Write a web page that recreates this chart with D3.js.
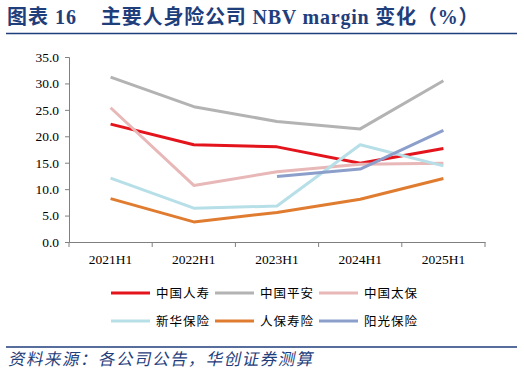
<!DOCTYPE html>
<html>
<head>
<meta charset="utf-8">
<script src="https://cdn.jsdelivr.net/npm/d3@7"></script>
<style>
  body { margin: 0; background: #fff; }
  svg { display: block; }
</style>
</head>
<body>
<div id="chart"></div>
<script>
const categories = ['2021H1', '2022H1', '2023H1', '2024H1', '2025H1'];
const yTicks = [0, 5, 10, 15, 20, 25, 30, 35];

const names = ['中国人寿', '中国平安', '中国太保', '新华保险', '人保寿险', '阳光保险'];
const colors = ['#e3141c', '#b3b3b3', '#e8b7b7', '#b7dfe8', '#e07c30', '#8c9fcb'];

const chinaLife = [22.3, 18.4, 18.0, 14.9, 17.7];
const pingAn = [31.2, 25.6, 22.8, 21.4, 30.5];
const cpic = [25.4, 10.7, 13.3, 14.7, 14.9];
const newChina = [12.1, 6.4, 6.8, 18.4, 14.4];
const picc = [8.2, 3.8, 5.6, 8.1, 12.0];
const sunshine = [null, null, 12.4, 13.8, 21.1];

const seriesValues = [chinaLife, pingAn, cpic, newChina, picc, sunshine];

const W = 524, H = 378;
const navy = '#1f3e7c';

const svg = d3.select('#chart').append('svg')
    .attr('width', W).attr('height', H);

// title
var titleFont = '"Liberation Serif", "Noto Sans CJK SC", serif';
svg.append('text')
    .attr('x', 7).attr('y', 24)
    .attr('fill', navy)
    .attr('font-family', titleFont)
    .attr('font-weight', 'bold')
    .attr('font-size', 20)
    .attr('letter-spacing', 1)
    .text('图表 16');
svg.append('text')
    .attr('x', 101).attr('y', 24)
    .attr('fill', navy)
    .attr('font-family', titleFont)
    .attr('font-weight', 'bold')
    .attr('font-size', 20)
    .attr('letter-spacing', 0.8)
    .text('主要人身险公司 NBV margin 变化（%）');

svg.append('line')
    .attr('x1', 6).attr('x2', 517).attr('y1', 33.5).attr('y2', 33.5)
    .attr('stroke', navy).attr('stroke-width', 1.5);

// plot
var mLeft = 69, mRight = 485, mTop = 57, mBottom = 242;

var x = d3.scaleBand().domain(categories).range([mLeft, mRight]);
var y = d3.scaleLinear().domain([0, 35]).range([mBottom, mTop]);

var g = svg.append('g');

g.append('g')
    .attr('transform', 'translate(' + mLeft + ',0)')
    .call(d3.axisLeft(y).tickValues(yTicks).tickSize(4).tickFormat(d3.format('.1f')))
    .call(a => a.select('.domain').attr('stroke', '#808080'))
    .call(a => a.selectAll('.tick line').attr('stroke', '#808080'))
    .call(a => a.selectAll('text')
        .attr('font-family', '"Liberation Serif", serif')
        .attr('font-size', 13.5).attr('fill', '#000').attr('dx', -3));

var xAxis = g.append('g')
    .attr('transform', 'translate(0,' + mBottom + ')')
    .call(d3.axisBottom(x).tickSize(0).tickPadding(12))
    .call(a => a.select('.domain').attr('stroke', '#808080'))
    .call(a => a.selectAll('text')
        .attr('font-family', '"Liberation Serif", serif')
        .attr('font-size', 13.5).attr('fill', '#000'));

// band boundary ticks
var bounds = categories.map(c => x(c)).concat([mRight]);
xAxis.selectAll('.btick').data(bounds).enter().append('line')
    .attr('x1', d => d).attr('x2', d => d)
    .attr('y1', 0).attr('y2', 5)
    .attr('stroke', '#808080');

var line = d3.line()
    .defined(d => d != null)
    .x((d, i) => x(categories[i]) + x.bandwidth() / 2)
    .y(d => y(d));

seriesValues.forEach(function (vals, i) {
    g.append('path')
        .datum(vals)
        .attr('fill', 'none')
        .attr('stroke', colors[i])
        .attr('stroke-width', 3)
        .attr('stroke-linejoin', 'round')
        .attr('d', line);
});

// legend
var legX = [111, 215, 319], legY = [293, 321];
names.forEach(function (n, i) {
    var lx = legX[i % 3], ly = legY[Math.floor(i / 3)];
    svg.append('line')
        .attr('x1', lx).attr('x2', lx + 39)
        .attr('y1', ly).attr('y2', ly)
        .attr('stroke', colors[i]).attr('stroke-width', 3);
    svg.append('text')
        .attr('x', lx + 45).attr('y', ly + 4.5)
        .attr('font-family', '"Noto Sans CJK SC", sans-serif')
        .attr('font-size', 12.5)
        .attr('fill', '#000')
        .attr('letter-spacing', 1)
        .text(n);
});

svg.append('line')
    .attr('x1', 6).attr('x2', 517).attr('y1', 347).attr('y2', 347)
    .attr('stroke', navy).attr('stroke-width', 1.5);

svg.append('text')
    .attr('x', 8).attr('y', 365)
    .attr('fill', navy)
    .attr('font-family', '"Noto Sans CJK SC", sans-serif')
    .attr('font-size', 16.5)
    .attr('letter-spacing', 1.5)
    .attr('transform', 'skewX(-12) translate(77.6,0)')
    .text('资料来源：各公司公告，华创证券测算');
</script>
</body>
</html>
